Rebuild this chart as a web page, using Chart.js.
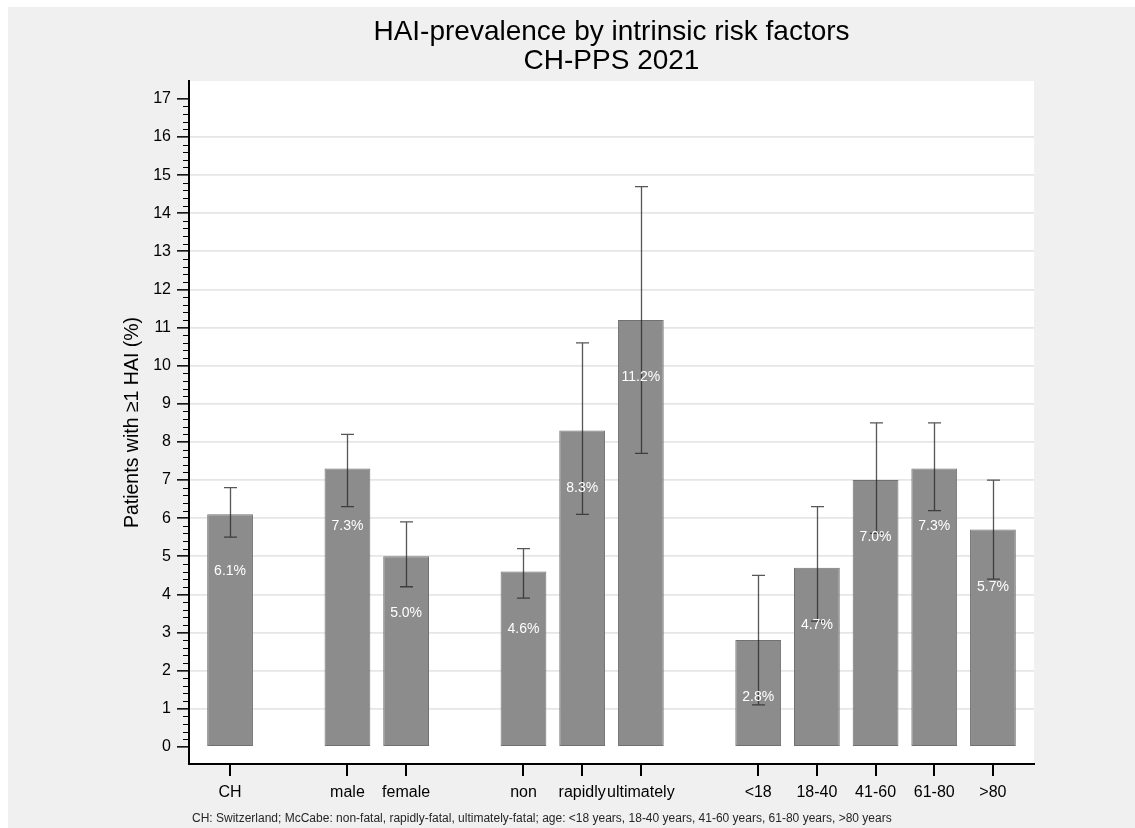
<!DOCTYPE html>
<html>
<head>
<meta charset="utf-8">
<title>HAI-prevalence by intrinsic risk factors</title>
<script src="https://cdn.jsdelivr.net/npm/chart.js@4/dist/chart.umd.min.js"></script>
<style>
  html, body { margin: 0; padding: 0; background: #ffffff; }
  #wrap { width: 1135px; height: 828px; }
</style>
</head>
<body>
<div id="wrap"><canvas id="chart" width="1135" height="828"></canvas></div>
<script>
// Categories, shown in groups separated by one empty slot
const categories = ['CH', 'male', 'female', 'non', 'rapidly', 'ultimately', '<18', '18-40', '41-60', '61-80', '>80'];
const groupSizes = [1, 2, 3, 5];

// Patients with at least one HAI (%) and 95% confidence interval
const prevalence = [6.1, 7.3, 5.0, 4.6, 8.3, 11.2, 2.8, 4.7, 7.0, 7.3, 5.7];
const ciLower    = [5.5, 6.3, 4.2, 3.9, 6.1, 7.7, 1.1, 3.3, 5.6, 6.2, 4.4];
const ciUpper    = [6.8, 8.2, 5.9, 5.2, 10.6, 14.7, 4.5, 6.3, 8.5, 8.5, 7.0];

// Y axis labelled ticks
const yTicks = [0, 1, 2, 3, 4, 5, 6, 7, 8, 9, 10, 11, 12, 13, 14, 15, 16, 17];

const titleLines = ['HAI-prevalence by intrinsic risk factors', 'CH-PPS 2021'];
const yTitle = 'Patients with \u22651 HAI (%)';
const footnote = 'CH: Switzerland; McCabe: non-fatal, rapidly-fatal, ultimately-fatal; age: <18 years, 18-40 years, 41-60 years, 61-80 years, >80 years';

const FONT = "'Liberation Sans', Arial, Helvetica, sans-serif";

// slot position of each category: one empty slot between groups
const slotOf = [];
(function () {
  let slot = 0;
  groupSizes.forEach((n) => {
    for (let i = 0; i < n; i++) slotOf.push(slot++);
    slot++;
  });
})();
const slotCount = slotOf[slotOf.length - 1] + 1;

const barData = prevalence.map((v, i) => ({ x: slotOf[i], y: v }));

// Frame, plot background, error bars, value labels, axis tick marks, footnote
const decorations = {
  id: 'decorations',
  beforeDraw(chart) {
    const { ctx, chartArea: a } = chart;
    ctx.save();
    ctx.fillStyle = '#ffffff';
    ctx.fillRect(0, 0, chart.width, chart.height);
    ctx.fillStyle = '#f0f0f0';
    ctx.fillRect(8, 7, chart.width - 8, chart.height - 7);
    ctx.fillStyle = '#ffffff';
    ctx.fillRect(a.left, a.top, a.right - a.left, a.bottom - a.top);
    ctx.restore();
  },
  afterDatasetsDraw(chart) {
    const { ctx, scales: { x, y } } = chart;
    ctx.save();
    // confidence intervals
    ctx.strokeStyle = 'rgba(40,40,40,0.78)';
    ctx.lineWidth = 1.3;
    const cap = 6.5;
    prevalence.forEach((v, i) => {
      const px = Math.round(x.getPixelForValue(slotOf[i])) + 0.5;
      const lo = y.getPixelForValue(ciLower[i]);
      const hi = y.getPixelForValue(ciUpper[i]);
      ctx.beginPath();
      ctx.moveTo(px, lo); ctx.lineTo(px, hi);
      ctx.moveTo(px - cap, hi); ctx.lineTo(px + cap, hi);
      ctx.moveTo(px - cap, lo); ctx.lineTo(px + cap, lo);
      ctx.stroke();
    });
    // value labels inside the bars
    ctx.fillStyle = '#ffffff';
    ctx.font = '14px ' + FONT;
    ctx.textAlign = 'center';
    ctx.textBaseline = 'middle';
    prevalence.forEach((v, i) => {
      const px = x.getPixelForValue(slotOf[i]);
      const py = y.getPixelForValue(v - 1.5);
      ctx.fillText(v.toFixed(1) + '%', px, py);
    });
    ctx.restore();
  },
  afterDraw(chart) {
    const { ctx, chartArea: a, scales: { x, y } } = chart;
    ctx.save();
    ctx.strokeStyle = '#000000';
    // minor ticks every 0.2 on the value axis
    ctx.lineWidth = 1.2;
    ctx.beginPath();
    for (let k = 1; k < 17 * 5; k++) {
      if (k % 5 === 0) continue;
      const py = Math.round(y.getPixelForValue(k / 5)) + 0.5;
      ctx.moveTo(a.left - 6, py);
      ctx.lineTo(a.left, py);
    }
    ctx.stroke();
    // category tick marks below the axis
    ctx.fillStyle = '#000000';
    slotOf.forEach((s) => {
      const px = Math.round(x.getPixelForValue(s));
      ctx.fillRect(px - 1, Math.round(a.bottom), 2, 12);
    });
    // footnote
    ctx.fillStyle = '#262626';
    ctx.font = '12px ' + FONT;
    ctx.textAlign = 'left';
    ctx.textBaseline = 'middle';
    ctx.fillText(footnote, 192, 819);
    ctx.restore();
  }
};

new Chart(document.getElementById('chart'), {
  type: 'bar',
  data: {
    datasets: [{
      data: barData,
      backgroundColor: '#8c8c8c',
      borderColor: '#717171',
      borderWidth: 1,
      borderSkipped: false,
      categoryPercentage: 1,
      barPercentage: 0.78
    }]
  },
  options: {
    responsive: false,
    devicePixelRatio: 1,
    animation: false,
    layout: { padding: { left: 0, top: 0, right: 101, bottom: 0 } },
    plugins: {
      legend: { display: false },
      tooltip: { enabled: false },
      title: {
        display: true,
        text: titleLines,
        fullSize: false,
        color: '#000000',
        font: { family: FONT, size: 28, weight: 'normal', lineHeight: 1.06 },
        padding: { top: 17, bottom: 4.6 }
      }
    },
    scales: {
      x: {
        type: 'linear',
        min: -0.7,
        max: slotCount - 1 + 0.7,
        offset: false,
        afterBuildTicks(scale) {
          scale.ticks = slotOf.map(s => ({ value: s }));
        },
        afterFit(scale) { scale.height = 64; },
        ticks: {
          autoSkip: false,
          maxRotation: 0,
          padding: 7,
          color: '#000000',
          font: { family: FONT, size: 16 },
          callback(value) {
            const i = slotOf.indexOf(value);
            return i >= 0 ? categories[i] : '';
          }
        },
        grid: {
          offset: false,
          drawOnChartArea: false,
          drawTicks: true,
          tickLength: 12,
          tickColor: 'rgba(0,0,0,0)'
        },
        border: { display: true, color: '#000000', width: 2 }
      },
      y: {
        type: 'linear',
        min: -0.45,
        max: 17.47,
        afterBuildTicks(scale) {
          scale.ticks = yTicks.map(v => ({ value: v }));
        },
        afterFit(scale) { scale.width = 189; },
        ticks: {
          padding: 6,
          color: '#000000',
          font: { family: FONT, size: 16 },
          callback(value) { return String(value); }
        },
        grid: {
          color(ctx) {
            const v = ctx.tick ? ctx.tick.value : null;
            return (v === 0 || v === 17) ? 'rgba(0,0,0,0)' : '#e6e6e6';
          },
          lineWidth: 1.7,
          tickLength: 12,
          tickColor: '#000000',
          tickWidth: 1.5
        },
        border: { display: true, color: '#000000', width: 2 },
        title: {
          display: true,
          text: yTitle,
          color: '#000000',
          font: { family: FONT, size: 19.5 },
          padding: { top: 121, bottom: 0 }
        }
      }
    }
  },
  plugins: [decorations]
});
</script>
</body>
</html>
